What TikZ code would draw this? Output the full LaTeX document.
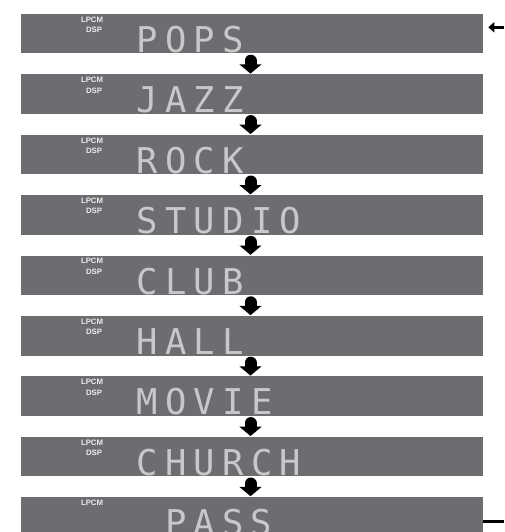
\documentclass[tikz,border=0pt]{standalone}
\usepackage{fontspec}
\usetikzlibrary{arrows.meta}
\newfontfamily\lcdfont[LetterSpace=20.3]{DejaVu Sans Mono}
\newfontfamily\lblfont{Liberation Sans}
\definecolor{bargray}{RGB}{108,109,113}
\definecolor{lcdtext}{RGB}{200,200,203}
\begin{document}
\begin{tikzpicture}[x=1pt,y=-1pt,
  bar/.style={rectangle, fill=bargray, minimum width=462pt, minimum height=39.5pt, inner sep=0pt, outer sep=0pt},
  lcd/.style={anchor=base west, inner sep=0pt, text=lcdtext, font=\lcdfont\fontsize{35.5}{36}\selectfont},
  lbl/.style={anchor=base east, inner sep=0pt, text=white!92!black, font=\lblfont\bfseries\fontsize{7.8}{8}\selectfont},
  downarrow/.style={line width=12pt, line cap=round, -{Triangle[length=9.3pt,width=22.3pt,line width=0pt]}},
  inarrow/.style={line width=3.5pt, -{Triangle[length=6pt,width=10.5pt,line width=0pt]}},
  outline/.style={line width=3.3pt}]
\clip (0,0) rectangle (504,532);
\foreach \i/\w in {1/POPS,2/JAZZ,3/ROCK,4/STUDIO,5/CLUB,6/HALL,7/MOVIE,8/CHURCH}{
  \pgfmathsetmacro\t{14+60.4*(\i-1)}
  \node[bar] (b\i) at (252,\t+19.75) {};
  \node[lbl] (l\i) at (103.3,\t+8.3) {LPCM};
  \node[lbl] (d\i) at (102.3,\t+18.7) {DSP};
  \node[lcd] (w\i) at (136.6,\t+38.5) {\w};
}
\node[bar] (b9) at (252,497+19.75) {};
\node[lbl] (l9) at (103.3,497+8.3) {LPCM};
\node[lcd] (w9) at (164.8,497+38.5) {PASS};
\foreach \i [evaluate=\i as \j using int(\i+1)] in {1,...,8}{
  \draw[downarrow] ([xshift=-1.5pt,yshift=-7.2pt]b\i.south) -- ([xshift=-1.5pt,yshift=0.8pt]b\j.north);
}
\coordinate (inA) at (504,27.3);
\draw[inarrow, shorten >=5.3pt] (inA) -- (b1.east |- inA);
\coordinate (outA) at (504,521.3);
\draw[outline] (b9.east |- outA) -- (outA);
\end{tikzpicture}
\end{document}
